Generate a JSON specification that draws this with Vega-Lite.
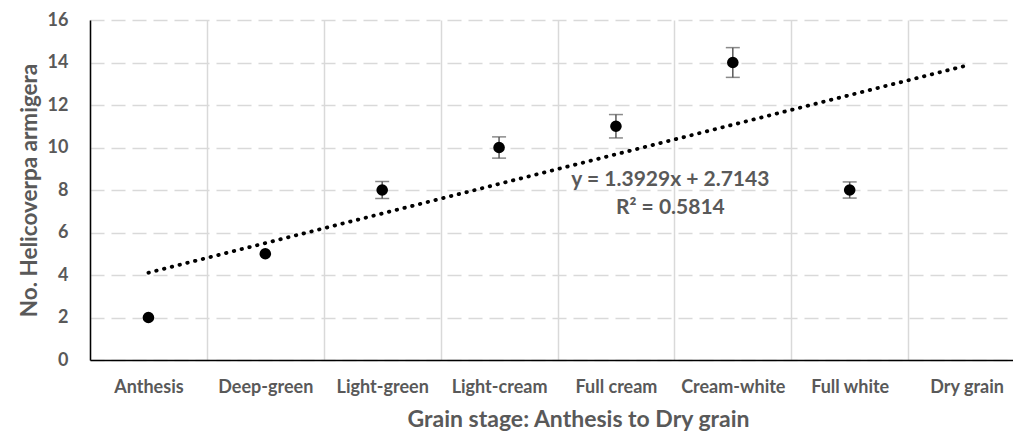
{
  "$schema": "https://vega.github.io/schema/vega-lite/v6.json",
  "width": 923,
  "height": 340,
  "autosize": {"type": "none"},
  "padding": {"left": 90, "top": 20, "right": 0, "bottom": 81},
  "background": "white",
  "config": {"view": {"stroke": null}, "font": "Lato"},
  "datasets": {
    "points": [
      {"stage": "Anthesis", "count": 2},
      {"stage": "Deep-green", "count": 5},
      {"stage": "Light-green", "count": 8},
      {"stage": "Light-cream", "count": 10},
      {"stage": "Full cream", "count": 11},
      {"stage": "Cream-white", "count": 14},
      {"stage": "Full white", "count": 8}
    ],
    "errors": [
      {"stage": "Light-green", "lo": 7.6, "hi": 8.4},
      {"stage": "Light-cream", "lo": 9.5, "hi": 10.5},
      {"stage": "Full cream", "lo": 10.45, "hi": 11.55},
      {"stage": "Cream-white", "lo": 13.3, "hi": 14.7},
      {"stage": "Full white", "lo": 7.62, "hi": 8.38}
    ],
    "trend": [
      {"stage": "Anthesis", "fit": 4.1072},
      {"stage": "Dry grain", "fit": 13.8575}
    ],
    "labels": [
      {"stage": "Cream-white", "ypos": 8.47, "text": "y = 1.3929x + 2.7143"},
      {"stage": "Cream-white", "ypos": 7.15, "text": "R² = 0.5814"}
    ]
  },
  "encoding": {
    "x": {
      "field": "stage",
      "type": "nominal",
      "sort": ["Anthesis", "Deep-green", "Light-green", "Light-cream", "Full cream", "Cream-white", "Full white", "Dry grain"],
      "scale": {
        "domain": ["Anthesis", "Deep-green", "Light-green", "Light-cream", "Full cream", "Cream-white", "Full white", "Dry grain"],
        "range": [0, 935],
        "paddingInner": 0,
        "paddingOuter": 0
      },
      "axis": {
        "title": "Grain stage: Anthesis to Dry grain",
        "labelAngle": 0,
        "tickBand": "extent",
        "grid": true,
        "gridColor": "#d9d9d9",
        "gridWidth": 1.5,
        "ticks": false,
        "tickSize": 0,
        "domainColor": "black",
        "domainWidth": 1.5,
        "labelFont": "Lato",
        "labelFontWeight": "bold",
        "labelFontSize": 18,
        "labelColor": "#595959",
        "labelPadding": 18,
        "titleFont": "Lato",
        "titleFontWeight": "bold",
        "titleFontSize": 23,
        "titleColor": "#595959",
        "titlePadding": 12,
        "titleX": 488
      }
    }
  },
  "layer": [
    {
      "data": {"name": "trend"},
      "mark": {"type": "line", "color": "black", "strokeWidth": 3.8, "strokeCap": "round", "strokeDash": [0.5, 7.5]},
      "encoding": {
        "y": {
          "field": "fit",
          "type": "quantitative",
          "scale": {"domain": [0, 16], "nice": false},
          "axis": {
            "title": "No. Helicoverpa armigera",
            "values": [0, 2, 4, 6, 8, 10, 12, 14, 16],
            "grid": true,
            "gridDash": [14, 7],
            "gridColor": "#d9d9d9",
            "gridWidth": 1.5,
            "ticks": false,
            "tickSize": 0,
            "domainColor": "black",
            "domainWidth": 1.5,
            "labelFont": "Lato",
            "labelFontWeight": "bold",
            "labelFontSize": 18,
            "labelColor": "#595959",
            "labelPadding": 22,
            "titleFont": "Lato",
            "titleFontWeight": "bold",
            "titleFontSize": 22.5,
            "titleColor": "#595959",
            "titlePadding": 6
          }
        }
      }
    },
    {
      "data": {"name": "errors"},
      "mark": {"type": "rule", "color": "#595959", "strokeWidth": 1.5},
      "encoding": {
        "y": {"field": "lo", "type": "quantitative"},
        "y2": {"field": "hi"}
      }
    },
    {
      "data": {"name": "errors"},
      "mark": {"type": "tick", "orient": "horizontal", "color": "#595959", "size": 14, "thickness": 1.5},
      "encoding": {
        "y": {"field": "lo", "type": "quantitative"}
      }
    },
    {
      "data": {"name": "errors"},
      "mark": {"type": "tick", "orient": "horizontal", "color": "#595959", "size": 14, "thickness": 1.5},
      "encoding": {
        "y": {"field": "hi", "type": "quantitative"}
      }
    },
    {
      "data": {"name": "points"},
      "mark": {"type": "circle", "color": "black", "opacity": 1, "size": 135},
      "encoding": {
        "y": {"field": "count", "type": "quantitative"}
      }
    },
    {
      "data": {"name": "labels"},
      "mark": {"type": "text", "font": "Lato", "fontWeight": "bold", "fontSize": 21, "color": "#595959", "align": "center", "baseline": "middle", "dx": -4},
      "encoding": {
        "x": {"field": "stage", "type": "nominal", "bandPosition": 0},
        "y": {"field": "ypos", "type": "quantitative"},
        "text": {"field": "text"}
      }
    }
  ]
}
